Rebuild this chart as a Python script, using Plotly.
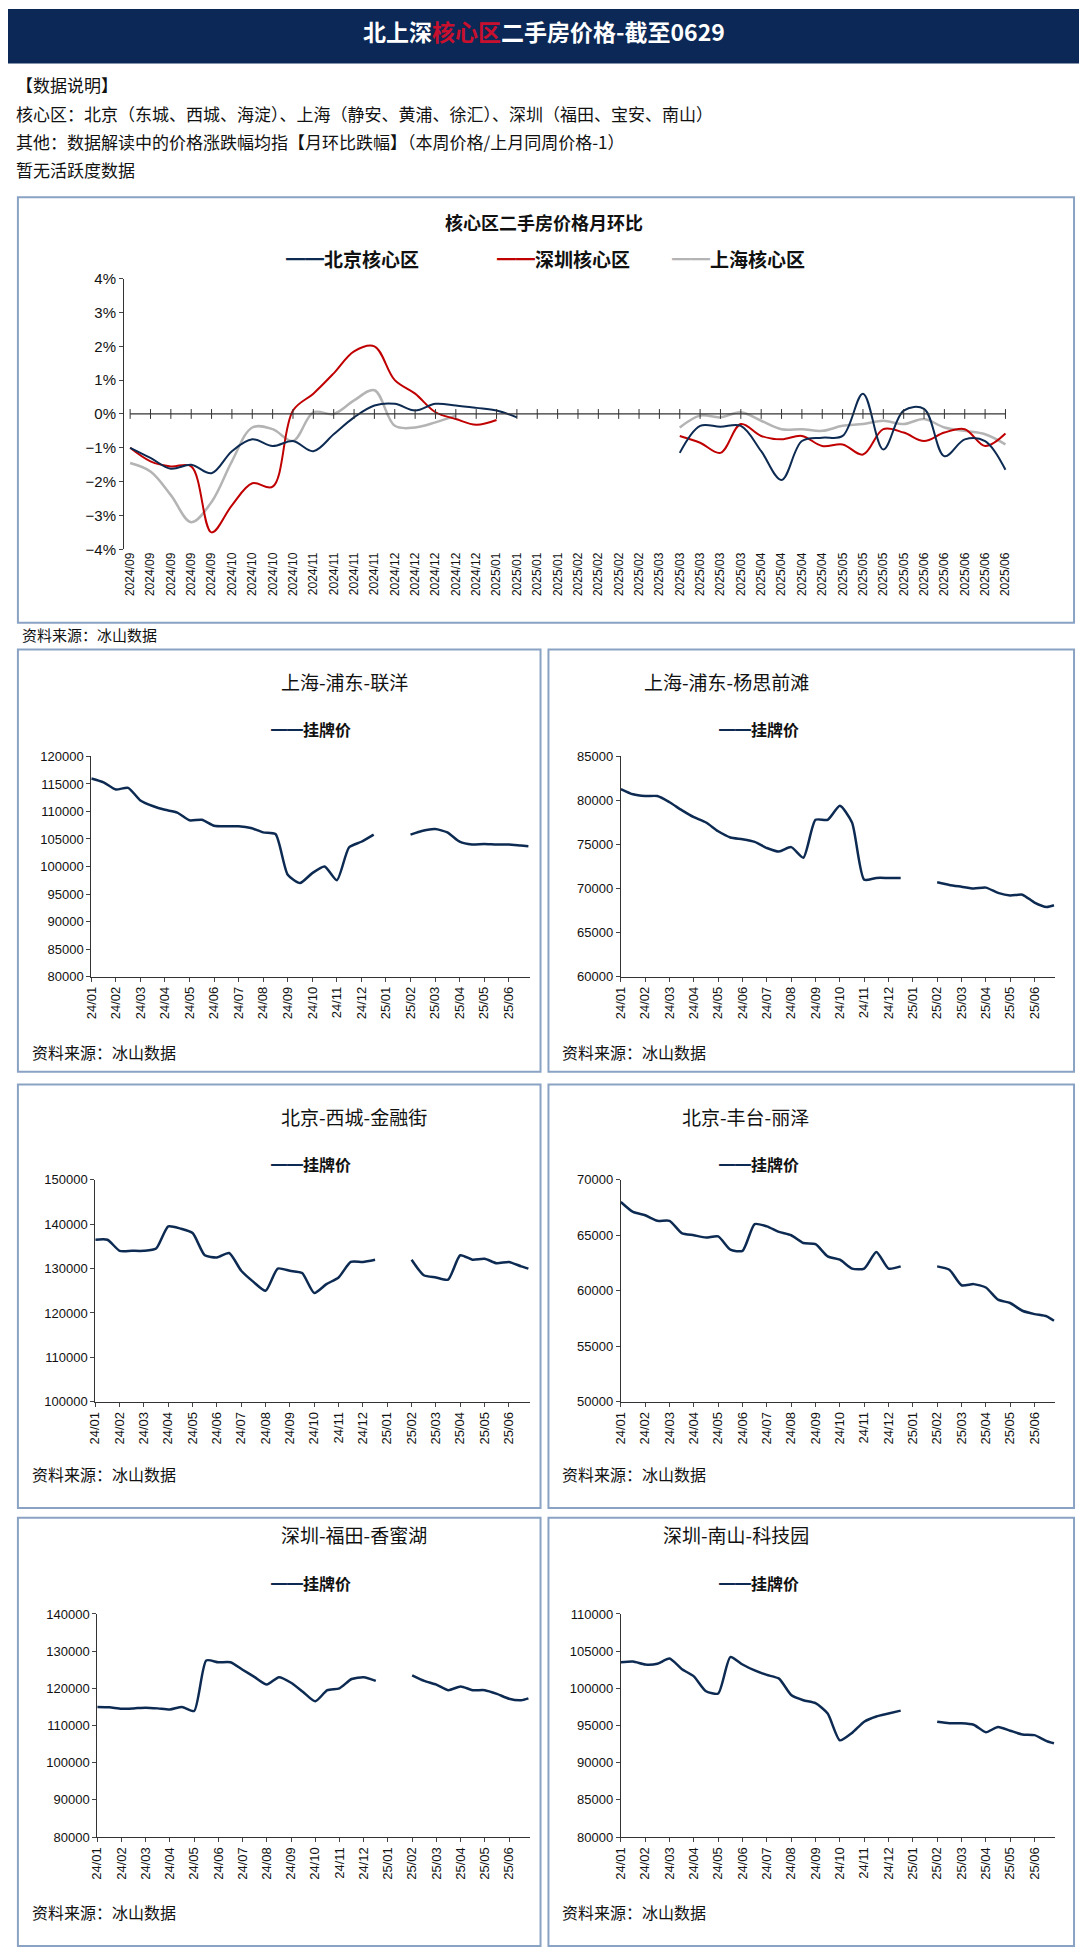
import plotly.graph_objects as go

W, H = 1080, 1960
NAVY = "#0d2b52"
RED = "#c00000"
GRAY = "#b4b4b4"
FONT = "Noto Sans CJK SC"
TICKFONT = "Liberation Sans"

# ---- 核心区月环比 (%) ----
mom_labels = (["2024/09"] * 5 + ["2024/10"] * 4 + ["2024/11"] * 4 + ["2024/12"] * 5 +
              ["2025/01"] * 4 + ["2025/02"] * 4 + ["2025/03"] * 5 + ["2025/04"] * 4 +
              ["2025/05"] * 4 + ["2025/06"] * 5)
N = None
bj_mom = [-1.0, -1.3, -1.62, -1.5, -1.75, -1.1, -0.75, -0.95, -0.8, -1.1, -0.6, -0.1, 0.25, 0.3,
          0.1, 0.3, 0.25, 0.18, 0.1, -0.1, N, N, N, N, N, N, N,
          -1.15, -0.35, -0.38, -0.35, -1.1, -1.95, -0.8, -0.7, -0.65, 0.6, -1.05, 0.1, 0.15,
          -1.25, -0.75, -0.8, -1.65]
sz_mom = [-1.0, -1.4, -1.55, -1.55, -3.5, -2.7, -2.05, -2.15, 0.1, 0.6, 1.2, 1.85, 2.0, 1.0,
          0.6, 0.05, -0.15, -0.32, -0.18, N, N, N, N, N, N, N, N,
          -0.65, -0.85, -1.15, -0.3, -0.65, -0.75, -0.65, -0.95, -0.9, -1.2, -0.45, -0.55, -0.8,
          -0.55, -0.45, -0.95, -0.58]
sh_mom = [-1.45, -1.7, -2.4, -3.2, -2.6, -1.4, -0.4, -0.45, -0.8, 0.05, 0.0, 0.4, 0.7, -0.35,
          -0.4, -0.25, -0.05, N, N, N, N, N, N, N, N, N, N,
          -0.4, -0.05, -0.1, 0.05, -0.2, -0.45, -0.45, -0.5, -0.35, -0.3, -0.2, -0.3, -0.15,
          -0.4, -0.5, -0.6, -0.9]

# ---- 板块挂牌价 (元/平) ----
month_ticks = ["24/01", "24/02", "24/03", "24/04", "24/05", "24/06", "24/07", "24/08", "24/09",
               "24/10", "24/11", "24/12", "25/01", "25/02", "25/03", "25/04", "25/05", "25/06"]
# 时间轴: 距24/01的月数
t_2024 = [0, 0.5, 1, 1.5, 2, 2.5, 3, 3.5, 4, 4.5, 5, 5.5, 6, 6.5, 7, 7.5, 8, 8.5, 9, 9.5,
          10, 10.5, 11, 11.5]
t_gap = [12.3]
t_2025 = [13, 13.5, 14, 14.5, 15, 15.5, 16, 16.5, 17, 17.5, 17.8]

lianyang = [116000, 115300, 114000, 114300, 112000, 111000, 110300, 109800, 108400, 108500,
            107400, 107300, 107300, 107000, 106200, 105900, 98500, 97000, 98800, 100000,
            97500, 103500, 104500, 105800, N,
            105800, 106500, 106800, 106200, 104500, 104000, 104100, 104000, 104000, 103800, 103700]
yangsi = [81300, 80700, 80500, 80500, 79800, 78900, 78100, 77500, 76500, 75800, 75600, 75300,
          74600, 74200, 74700, 73500, 77800, 77800, 79400, 77500, 71000, 71200, 71200, 71200, N,
          70700, 70400, 70200, 70000, 70100, 69500, 69200, 69300, 68400, 67900, 68100]
jinrong = [136500, 136500, 134000, 134000, 134000, 134500, 139500, 139000, 138000, 133000,
           132500, 133500, 129500, 127000, 125000, 130000, 129500, 129000, 124500, 126500,
           128000, 131500, 131500, 132000, N,
           132000, 128500, 128000, 127500, 133000, 132000, 132200, 131200, 131500, 130500, 130000]
lize = [68000, 67100, 66800, 66300, 66300, 65200, 65000, 64800, 64900, 63700, 63600, 66000,
        65800, 65300, 65000, 64300, 64200, 63100, 62800, 62000, 62000, 63500, 62000, 62200, N,
        62200, 61900, 60500, 60600, 60300, 59200, 58900, 58200, 57900, 57700, 57300]
xiangmihu = [115000, 114900, 114500, 114600, 114800, 114600, 114300, 115000, 113900, 127500,
             127000, 127000, 125000, 123000, 121000, 123000, 121500, 119000, 116500, 119500,
             120000, 122500, 123000, 122000, N,
             123500, 122000, 121000, 119500, 120500, 119500, 119500, 118500, 117200, 116800, 117300]
kejiyuan = [103500, 103600, 103200, 103300, 104000, 102600, 101600, 99600, 99300, 104200,
            103200, 102400, 101800, 101300, 99100, 98400, 98000, 96600, 93000, 94000, 95500,
            96200, 96600, 97000, N,
            95500, 95300, 95300, 95100, 94100, 94800, 94300, 93800, 93700, 92900, 92600]


def py(px):
    return 1 - px / H


def pxx(px):
    return px / W


def legend_text(name, col):
    return '<span style="color:%s">━━</span><b>%s</b>' % (col, name)


fig = go.Figure()
shapes = []
ann = []

# 标题栏
shapes.append(dict(type="rect", xref="paper", yref="paper", x0=0, x1=1, y0=py(55), y1=1,
                   fillcolor="#0b2856", line_width=0, layer="below"))
ann.append(dict(x=0.5, y=py(22), xref="paper", yref="paper", showarrow=False, yanchor="middle",
                text='<b>北上深<span style="color:#c8102e">核心区</span>二手房价格-截至0629</b>',
                font=dict(family=FONT, size=23, color="white")))
for ypx, txt in [(62, "【数据说明】"),
                 (91, "核心区：北京（东城、西城、海淀）、上海（静安、黄浦、徐汇）、深圳（福田、宝安、南山）"),
                 (119, "其他：数据解读中的价格涨跌幅均指【月环比跌幅】（本周价格/上月同周价格-1）"),
                 (147, "暂无活跃度数据")]:
    ann.append(dict(x=pxx(6), y=py(ypx), xref="paper", yref="paper", showarrow=False,
                    xanchor="left", text=txt, font=dict(family=FONT, size=17, color="#111")))

# 月环比图
shapes.append(dict(type="rect", xref="paper", yref="paper", x0=pxx(10), x1=pxx(1075),
                   y0=py(619), y1=py(190), line=dict(color="#8aa3c4", width=2)))
ann.append(dict(x=0.5, y=py(200), xref="paper", yref="paper", showarrow=False,
                text="<b>核心区二手房价格月环比</b>", font=dict(family=FONT, size=18, color="#111")))
for cx, name, col in [(278, "北京核心区", NAVY), (560, "深圳核心区", RED), (806, "上海核心区", GRAY)]:
    ann.append(dict(x=pxx(cx), y=py(236), xref="paper", yref="paper", showarrow=False,
                    text=legend_text(name, col), font=dict(family=FONT, size=19, color="#111")))
ann.append(dict(x=pxx(12), y=py(618), xref="paper", yref="paper", showarrow=False,
                xanchor="left", text="资料来源：冰山数据", font=dict(family=FONT, size=15, color="#111")))

idx = list(range(len(mom_labels)))
for ys, col, w in [(sh_mom, GRAY, 2.5), (sz_mom, RED, 2), (bj_mom, NAVY, 2)]:
    fig.add_trace(go.Scatter(x=idx, y=ys, mode="lines", line=dict(color=col, width=w, shape="spline"),
                             connectgaps=False, showlegend=False, xaxis="x", yaxis="y"))
fig.add_trace(go.Scatter(x=idx, y=[0] * len(idx), mode="lines+markers", showlegend=False,
                         line=dict(color="#333", width=1.2),
                         marker=dict(symbol="line-ns", size=7, line=dict(color="#333", width=1)),
                         xaxis="x", yaxis="y", hoverinfo="skip"))
layout = dict(
    xaxis=dict(domain=[pxx(117), pxx(1012)], range=[-0.3, len(idx) - 0.7], tickmode="array",
               tickvals=idx, ticktext=mom_labels, tickangle=-90, showgrid=False, zeroline=False,
               showline=False, tickfont=dict(family=TICKFONT, size=12, color="#111"), anchor="y"),
    yaxis=dict(domain=[py(545), py(272)], range=[-4, 4], dtick=1, ticksuffix="%", showgrid=False,
               zeroline=False, showline=True, linecolor="#333", ticks="outside", ticklen=4,
               tickfont=dict(family="Liberation Sans Narrow, " + TICKFONT, size=15, color="#111"),
               anchor="x"),
)

# 各板块挂牌价
panels = [
    ("上海-浦东-联洋", lianyang, [80000, 120000], 5000, (10, 537), (646, 1072), (84, 526), (754, 976)),
    ("上海-浦东-杨思前滩", yangsi, [60000, 85000], 5000, (545, 1075), (646, 1072), (618, 1056), (754, 976)),
    ("北京-西城-金融街", jinrong, [100000, 150000], 10000, (10, 537), (1085, 1512), (88, 526), (1181, 1405)),
    ("北京-丰台-丽泽", lize, [50000, 70000], 5000, (545, 1075), (1085, 1512), (618, 1056), (1181, 1405)),
    ("深圳-福田-香蜜湖", xiangmihu, [80000, 140000], 10000, (10, 537), (1522, 1954), (90, 526), (1619, 1844)),
    ("深圳-南山-科技园", kejiyuan, [80000, 110000], 5000, (545, 1075), (1522, 1954), (618, 1056), (1619, 1844)),
]
t_all = t_2024 + t_gap + t_2025
for i, (title, vals, yr, dt, bx, by, ax, ay) in enumerate(panels):
    k = i + 2
    xa, ya = "x%d" % k, "y%d" % k
    fig.add_trace(go.Scatter(x=t_all, y=vals, mode="lines", connectgaps=False, showlegend=False,
                             line=dict(color=NAVY, width=2.5, shape="spline", smoothing=0.6),
                             xaxis=xa, yaxis=ya))
    layout["xaxis%d" % k] = dict(domain=[pxx(ax[0]), pxx(ax[1])], range=[0, 17.85], tickmode="array",
                                 tickvals=list(range(len(month_ticks))), ticktext=month_ticks,
                                 tickangle=-90, ticks="outside", ticklen=4, showgrid=False,
                                 zeroline=False, showline=True, linecolor="#333",
                                 tickfont=dict(family=TICKFONT, size=13, color="#111"), anchor=ya)
    layout["yaxis%d" % k] = dict(domain=[py(ay[1]), py(ay[0])], range=yr, dtick=dt, showgrid=False,
                                 zeroline=False, showline=True, linecolor="#333", ticks="outside",
                                 ticklen=4, tickformat="d",
                                 tickfont=dict(family=TICKFONT, size=13, color="#111"), anchor=xa)
    shapes.append(dict(type="rect", xref="paper", yref="paper", x0=pxx(bx[0]), x1=pxx(bx[1]),
                       y0=py(by[1]), y1=py(by[0]), line=dict(color="#8aa3c4", width=2)))
    cx = (bx[0] + bx[1]) / 2
    ann.append(dict(x=pxx(cx), y=py(by[0] + 32), xref="paper", yref="paper", showarrow=False,
                    text=title, font=dict(family=FONT, size=19, color="#111")))
    ann.append(dict(x=pxx(cx - 10), y=py(by[0] + 80), xref="paper", yref="paper", showarrow=False,
                    text=legend_text("挂牌价", NAVY), font=dict(family=FONT, size=16, color="#111")))
    ann.append(dict(x=pxx(bx[0] + 12), y=py(by[1] - 20), xref="paper", yref="paper", showarrow=False,
                    xanchor="left", text="资料来源：冰山数据", font=dict(family=FONT, size=16, color="#111")))

fig.update_layout(width=W, height=H, margin=dict(l=0, r=0, t=0, b=0), paper_bgcolor="white",
                  plot_bgcolor="white", shapes=shapes, annotations=ann, **layout)
fig.write_html("out.html", config={"displayModeBar": False},
               post_script="document.body.style.margin='0';")
